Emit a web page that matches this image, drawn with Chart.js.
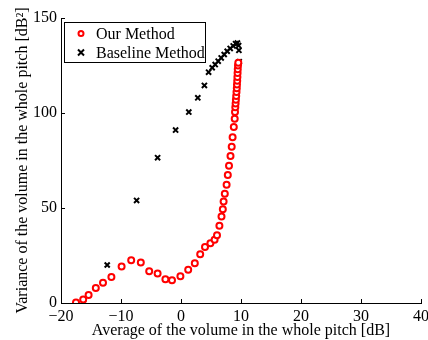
<!DOCTYPE html>
<html>
<head>
<meta charset="utf-8">
<script src="https://cdn.jsdelivr.net/npm/chart.js@4/dist/chart.umd.min.js"></script>
<style>
html,body{margin:0;padding:0;background:#fff;}
#wrap{width:428px;height:340px;}
</style>
</head>
<body>
<div id="wrap"><canvas id="c" width="428" height="340"></canvas></div>
<script>
const xTicks = [-20, -10, 0, 10, 20, 30, 40];
const yTicks = [0, 50, 100, 150];

const ourX = [-17.5,-16.3,-15.4,-14.2,-13.0,-11.6,-9.9,-8.3,-6.7,-5.3,-3.9,-2.6,-1.5,-0.1,1.2,2.3,3.2,4.0,4.9,5.6,6.0,6.4,6.75,6.97,7.1,7.3,7.6,7.8,8.0,8.25,8.45,8.6,8.8,8.95,9.0,9.05,9.1,9.15,9.2,9.25,9.3,9.33,9.37,9.4,9.43,9.46,9.5,9.55];
const ourY = [0.2,1.8,4.2,7.9,10.6,13.7,19.2,22.5,21.3,16.7,15.5,12.5,12.0,14.1,17.5,20.9,25.6,29.5,31.4,33.3,35.7,40.7,45.5,49.4,53.4,57.5,62.2,67.4,72.2,77.4,82.3,87.3,92.6,97.0,100.5,103,105,107,109,111,113,115,117,119,121,123,125,126.5];

const baseX = [-17.5,-12.3,-7.4,-3.9,-0.9,1.3,2.8,3.9,4.6,5.2,5.7,6.2,6.7,7.2,7.7,8.2,8.7,9.1,9.4,9.6,9.65,9.7];
const baseY = [0,20,54,76.5,91,100.5,108,114.5,121.5,123.8,125.5,127.3,129,130.8,132.5,134,135.3,136.5,136.8,135.5,133,127];

const FONT = '"Liberation Serif","Times New Roman",serif';

const toPts = (xs, ys) => xs.map((x, i) => ({x: x, y: ys[i]}));

const inwardTicks = {
  id: 'inwardTicks',
  afterDraw(chart) {
    const ctx = chart.ctx, a = chart.chartArea;
    const xs = chart.scales.x, ys = chart.scales.y;
    ctx.save();
    ctx.strokeStyle = '#000';
    ctx.lineWidth = 1;
    ctx.beginPath();
    xs.ticks.forEach(t => {
      const px = Math.round(xs.getPixelForValue(t.value)) + 0.5;
      ctx.moveTo(px, a.bottom);
      ctx.lineTo(px, a.bottom - 4);
    });
    ys.ticks.forEach(t => {
      const py = Math.round(ys.getPixelForValue(t.value)) + 0.5;
      ctx.moveTo(a.left, py);
      ctx.lineTo(a.left + 4, py);
    });
    ctx.stroke();
    ctx.restore();
  }
};

const boxLegend = {
  id: 'boxLegend',
  afterDraw(chart) {
    const ctx = chart.ctx;
    const L = 64.5, T = 22.5, W = 141, H = 40;
    ctx.save();
    ctx.fillStyle = '#fff';
    ctx.fillRect(L, T, W, H);
    ctx.strokeStyle = '#000';
    ctx.lineWidth = 1;
    ctx.strokeRect(L, T, W, H);
    ctx.font = '16px ' + FONT;
    ctx.textBaseline = 'middle';
    chart.data.datasets.forEach((ds, i) => {
      const cy = T + 11 + i * 19;
      ctx.strokeStyle = ds.borderColor;
      ctx.fillStyle = ds.backgroundColor;
      ctx.lineWidth = ds.borderWidth;
      ctx.beginPath();
      if (ds.pointStyle === 'circle') {
        ctx.arc(81, cy, 2.5, 0, Math.PI * 2);
        ctx.fill();
        ctx.stroke();
      } else {
        const r = 3;
        ctx.moveTo(81 - r, cy - r); ctx.lineTo(81 + r, cy + r);
        ctx.moveTo(81 - r, cy + r); ctx.lineTo(81 + r, cy - r);
        ctx.stroke();
      }
      ctx.fillStyle = '#000';
      ctx.fillText(ds.label, 96, cy + 1);
    });
    ctx.restore();
  }
};

new Chart(document.getElementById('c'), {
  type: 'scatter',
  data: {
    datasets: [
      {
        label: 'Our Method',
        data: toPts(ourX, ourY),
        pointStyle: 'circle',
        pointRadius: 3,
        borderWidth: 2,
        borderColor: '#ff0000',
        backgroundColor: '#ffffff',
        showLine: false
      },
      {
        label: 'Baseline Method',
        data: toPts(baseX, baseY),
        pointStyle: 'crossRot',
        pointRadius: 3.6,
        borderWidth: 2,
        borderColor: '#000000',
        backgroundColor: '#000000',
        showLine: false
      }
    ]
  },
  options: {
    responsive: false,
    animation: false,
    devicePixelRatio: 1,
    layout: { padding: { top: 18, right: 7, left: 0, bottom: 0 } },
    plugins: { legend: { display: false }, tooltip: { enabled: false } },
    scales: {
      x: {
        type: 'linear',
        min: -20, max: 40,
        afterBuildTicks: s => { s.ticks = xTicks.map(v => ({value: v})); },
        afterFit: s => { s.height = 37; s.paddingRight = 0; s.paddingLeft = 0; },
        grid: { display: false, drawTicks: false },
        border: { display: true, color: '#000', width: 1 },
        ticks: {
          color: '#000', font: { family: FONT, size: 16 }, padding: 4,
          maxRotation: 0, autoSkip: false,
          callback: v => String(v).replace('-', '\u2212')
        },
        title: {
          display: true, text: 'Average of the volume in the whole pitch [dB]',
          color: '#000', font: { family: FONT, size: 16 }, padding: { top: 0, bottom: 0 }
        }
      },
      y: {
        type: 'linear',
        min: 0, max: 150,
        afterBuildTicks: s => { s.ticks = yTicks.map(v => ({value: v})); },
        afterFit: s => { s.width = 61; s.paddingTop = 0; s.paddingBottom = 0; },
        grid: { display: false, drawTicks: false },
        border: { display: true, color: '#000', width: 1 },
        ticks: {
          color: '#000', font: { family: FONT, size: 16 }, padding: 4,
          callback: v => String(v)
        },
        title: {
          display: true, text: 'Variance of the volume in the whole pitch [dB\u00B2]',
          color: '#000', font: { family: FONT, size: 16 }, padding: { top: 13, bottom: 0 }
        }
      }
    }
  },
  plugins: [inwardTicks, boxLegend]
});
</script>
</body>
</html>
